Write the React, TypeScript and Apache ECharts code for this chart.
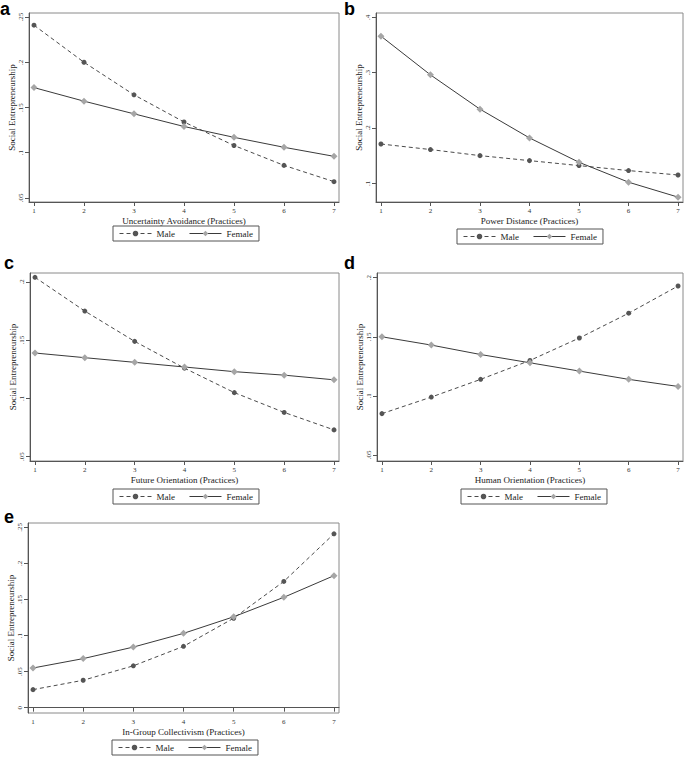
import React, { useEffect, useRef } from "react";
import * as echarts from "echarts";

// ---- data ----
const practices = [1, 2, 3, 4, 5, 6, 7];
const xTicks = [1, 2, 3, 4, 5, 6, 7];

const panelLetters = ["a", "b", "c", "d", "e"];
const xTitles = [
  "Uncertainty Avoidance (Practices)",
  "Power Distance (Practices)",
  "Future Orientation (Practices)",
  "Human Orientation (Practices)",
  "In-Group Collectivism (Practices)",
];
const yTitle = "Social Entrepreneurship";
const seriesNames = ["Male", "Female"];

const maleA = [0.241, 0.2, 0.164, 0.134, 0.108, 0.086, 0.068];
const femaleA = [0.172, 0.157, 0.143, 0.129, 0.117, 0.106, 0.096];
const maleB = [0.171, 0.161, 0.15, 0.141, 0.132, 0.123, 0.115];
const femaleB = [0.366, 0.296, 0.234, 0.182, 0.138, 0.102, 0.075];
const maleC = [0.204, 0.175, 0.149, 0.126, 0.105, 0.088, 0.073];
const femaleC = [0.139, 0.135, 0.131, 0.127, 0.123, 0.12, 0.116];
const maleD = [0.085, 0.099, 0.114, 0.13, 0.149, 0.17, 0.193];
const femaleD = [0.15, 0.143, 0.135, 0.128, 0.121, 0.114, 0.108];
const maleE = [0.025, 0.038, 0.058, 0.085, 0.124, 0.175, 0.241];
const femaleE = [0.055, 0.068, 0.084, 0.103, 0.126, 0.153, 0.183];

const yTicksA = [0.05, 0.1, 0.15, 0.2, 0.25];
const yTicksB = [0.1, 0.2, 0.3, 0.4];
const yTicksC = [0.05, 0.1, 0.15, 0.2];
const yTicksD = [0.05, 0.1, 0.15, 0.2];
const yTicksE = [0, 0.05, 0.1, 0.15, 0.2, 0.25];

const maleSets = [maleA, maleB, maleC, maleD, maleE];
const femaleSets = [femaleA, femaleB, femaleC, femaleD, femaleE];
const yTickSets = [yTicksA, yTicksB, yTicksC, yTicksD, yTicksE];

// ---- layout (positions / styles) ----
const grids = [
  { left: 29, top: 13, width: 310, height: 189 },
  { left: 376, top: 13, width: 307, height: 189 },
  { left: 30, top: 273, width: 309, height: 188 },
  { left: 377, top: 273, width: 306, height: 188 },
  { left: 28, top: 523, width: 311, height: 190 },
];
const yRanges = [
  [0.0455, 0.2545],
  [0.0662, 0.4078],
  [0.0463, 0.2077],
  [0.0449, 0.204],
  [-0.0074, 0.256],
];
const legendPos = [
  { left: 113, top: 226 },
  { left: 457, top: 229 },
  { left: 113, top: 489 },
  { left: 461, top: 489 },
  { left: 112, top: 740 },
];
const letterPos = [
  { x: 0, y: 0 },
  { x: 344, y: 0 },
  { x: 4, y: 254 },
  { x: 344, y: 254 },
  { x: 4, y: 508 },
];

const SERIF = '"Liberation Serif", "Times New Roman", serif';
const AXIS = "#555555";

const fmtY = (v: number) => {
  if (v === 0) return "0";
  return String(+v.toFixed(3)).replace(/^0\./, ".");
};

export default function App() {
  const ref = useRef<HTMLDivElement>(null);
  useEffect(() => {
    if (!ref.current) return;
    const chart = echarts.init(ref.current, undefined, { renderer: "svg" });

    const xAxis = grids.map((_, i) => ({
      type: "value",
      gridIndex: i,
      min: 0.9,
      max: 7.1,
      name: xTitles[i],
      nameLocation: "middle",
      nameGap: 14,
      nameTextStyle: { fontSize: 9, fontFamily: SERIF, color: "#222" },
      axisLine: { show: true, lineStyle: { color: AXIS, width: 1 } },
      axisTick: { show: true, length: 4, customValues: xTicks, lineStyle: { color: AXIS } },
      axisLabel: {
        customValues: xTicks,
        fontSize: 7,
        fontFamily: SERIF,
        color: "#333",
        margin: 5,
        formatter: (v: number) => String(v),
      },
      splitLine: { show: false },
    }));

    const yAxis = grids.map((_, i) => ({
      type: "value",
      gridIndex: i,
      min: yRanges[i][0],
      max: yRanges[i][1],
      name: yTitle,
      nameLocation: "middle",
      nameRotate: 90,
      nameGap: 13,
      nameTextStyle: { fontSize: 9, fontFamily: SERIF, color: "#222" },
      axisLine: { show: true, lineStyle: { color: AXIS, width: 1 } },
      axisTick: { show: true, length: 4, customValues: yTickSets[i], lineStyle: { color: AXIS } },
      axisLabel: {
        customValues: yTickSets[i],
        rotate: 90,
        fontSize: 7,
        fontFamily: SERIF,
        color: "#333",
        margin: 5,
        formatter: fmtY,
      },
      splitLine: { show: false },
    }));

    const series: any[] = [];
    grids.forEach((_, i) => {
      series.push({
        type: "line",
        name: seriesNames[0],
        xAxisIndex: i,
        yAxisIndex: i,
        data: practices.map((x, k) => [x, maleSets[i][k]]),
        symbol: "circle",
        symbolSize: 5,
        itemStyle: { color: "#555555" },
        lineStyle: { color: "#4a4a4a", width: 1, type: [4, 3] },
        z: 2,
      });
      series.push({
        type: "line",
        name: seriesNames[1],
        xAxisIndex: i,
        yAxisIndex: i,
        data: practices.map((x, k) => [x, femaleSets[i][k]]),
        symbol: "diamond",
        symbolSize: 7,
        itemStyle: { color: "#a6a6a6" },
        lineStyle: { color: "#3a3a3a", width: 1, type: "solid" },
        z: 3,
      });
    });

    const legend = legendPos.map((p) => ({
      left: p.left,
      top: p.top,
      orient: "horizontal",
      data: seriesNames,
      itemWidth: 32,
      itemHeight: 7,
      itemGap: 14,
      padding: [3, 6],
      borderColor: "#555",
      borderWidth: 1,
      selectedMode: false,
      lineStyle: { width: 1 },
      textStyle: { fontSize: 9, fontFamily: SERIF, color: "#222" },
    }));

    const graphic = letterPos.map((p, i) => ({
      type: "text",
      x: p.x,
      y: p.y,
      style: {
        text: panelLetters[i],
        font: 'bold 18px "Liberation Sans", Arial, sans-serif',
        fill: "#000",
        verticalAlign: "top",
        align: "left",
      },
    }));

    chart.setOption({
      animation: false,
      backgroundColor: "#ffffff",
      grid: grids.map((g) => ({
        ...g,
        show: true,
        borderColor: "#8a8a8a",
        borderWidth: 1,
        backgroundColor: "#fff",
        containLabel: false,
      })),
      xAxis,
      yAxis,
      series,
      legend,
      graphic,
    } as any);

    return () => chart.dispose();
  }, []);

  return (
    <div
      ref={ref}
      style={{ position: "absolute", left: 0, top: 0, width: 685, height: 758, background: "#fff" }}
    />
  );
}
